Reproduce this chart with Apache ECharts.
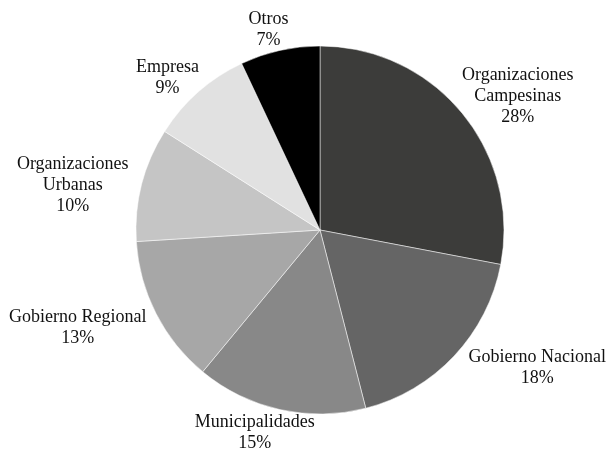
<!DOCTYPE html>
<html>
<head>
<meta charset="utf-8">
<script src="https://cdn.jsdelivr.net/npm/echarts@6/dist/echarts.min.js"></script>
<style>
  html, body { margin: 0; padding: 0; background: #fff; }
  #chart { width: 612px; height: 452px; }
</style>
</head>
<body>
<div id="chart"></div>
<script>
// datos del gráfico
const categories = ['Organizaciones\nCampesinas', 'Gobierno Nacional', 'Municipalidades', 'Gobierno Regional', 'Organizaciones\nUrbanas', 'Empresa', 'Otros'];
const values = [28, 18, 15, 13, 10, 9, 7];
const colors = ['#3c3c3a', '#656565', '#888888', '#a7a7a7', '#c5c5c5', '#e1e1e1', '#000000'];

// ajustes finos de las etiquetas (px)
const labelNudge = [[13, 4], [33, -3], [-12, 3], [-17, 5], [-15, 9], [-10, 2], [-7, 0]];

const cx = 320, cy = 230, radius = 184;
const total = values.reduce((a, b) => a + b, 0);

let cum = 0;
const midAngles = values.map(v => {
  const a = (cum + v / 2) / total * Math.PI * 2;
  cum += v;
  return a;
});

const myChart = echarts.init(document.getElementById('chart'));
myChart.setOption({
  animation: false,
  series: [{
    type: 'pie',
    center: [cx, cy],
    radius: radius,
    startAngle: 90,
    clockwise: true,
    data: categories.map((name, i) => ({ name, value: values[i], itemStyle: { color: colors[i] } })),
    itemStyle: { borderColor: '#ffffff', borderWidth: 0.5 },
    label: {
      show: true,
      position: 'outside',
      formatter: p => p.name + '\n' + p.value + '%',
      fontFamily: '"Liberation Serif", "DejaVu Serif", serif',
      fontSize: 18,
      lineHeight: 21,
      color: '#111111',
      align: 'center'
    },
    labelLine: { show: false, length: 5, length2: 0 },
    labelLayout(params) {
      const i = params.dataIndex;
      const t = midAngles[i];
      const ux = Math.sin(t), uy = -Math.cos(t);
      const w = params.labelRect.width, h = params.labelRect.height;
      return {
        x: cx + ux * radius + ux * w / 2 + labelNudge[i][0],
        y: cy + uy * radius + uy * h / 2 + labelNudge[i][1],
        align: 'center',
        verticalAlign: 'middle'
      };
    }
  }]
});
</script>
</body>
</html>
